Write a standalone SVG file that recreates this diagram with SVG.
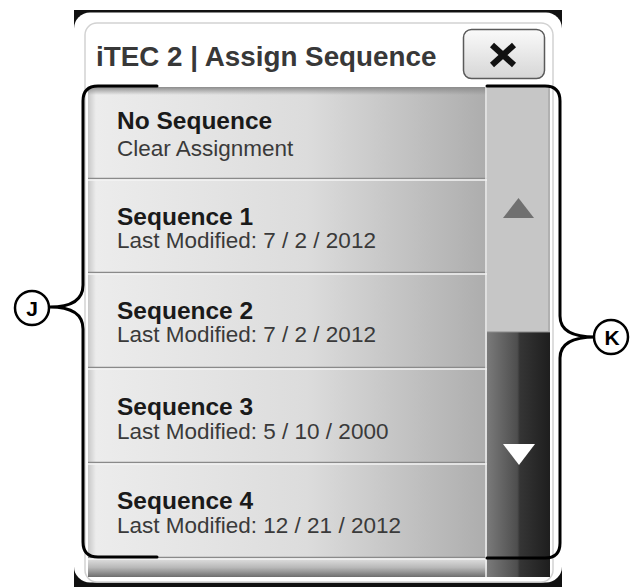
<svg xmlns="http://www.w3.org/2000/svg" width="643" height="587" viewBox="0 0 643 587">
<style>
.t{font-family:"Liberation Sans",Arial,sans-serif}
.title{font-size:27.8px;font-weight:bold;fill:#383838}
.b{font-size:24.5px;font-weight:bold;fill:#1a1a1a}
.r{font-size:22.5px;fill:#3a3a3a}
.sep{stroke:#8a8a8a;stroke-width:1.5}
.sepw{stroke:#f4f4f4;stroke-width:1.5}
.brace{fill:none;stroke:#000;stroke-width:3;stroke-linecap:round;stroke-linejoin:round}
.circ{fill:#fff;stroke:#000;stroke-width:2.5}
.lbl{font-size:21px;font-weight:bold;fill:#000;text-anchor:middle}
</style>
<defs>
<linearGradient id="rowg" x1="0" y1="0" x2="1" y2="0">
<stop offset="0" stop-color="#c8c8c8"/>
<stop offset="0.02" stop-color="#ececec"/>
<stop offset="0.55" stop-color="#dcdcdc"/>
<stop offset="1" stop-color="#adadad"/>
</linearGradient>
<linearGradient id="topg" x1="0" y1="0" x2="0" y2="1">
<stop offset="0" stop-color="#8c8c8c"/>
<stop offset="1" stop-color="#8c8c8c" stop-opacity="0"/>
</linearGradient>
<linearGradient id="botg" x1="0" y1="0" x2="0" y2="1">
<stop offset="0" stop-color="#e2e2e2"/>
<stop offset="0.5" stop-color="#b8b8b8"/>
<stop offset="1" stop-color="#6e6e6e"/>
</linearGradient>
<linearGradient id="darkg" x1="0" y1="0" x2="1" y2="0">
<stop offset="0" stop-color="#7a7a7a"/>
<stop offset="0.48" stop-color="#4e4e4e"/>
<stop offset="0.52" stop-color="#353535"/>
<stop offset="1" stop-color="#1e1e1e"/>
</linearGradient>
<linearGradient id="btng" x1="0" y1="0" x2="0" y2="1">
<stop offset="0" stop-color="#fafafa"/>
<stop offset="1" stop-color="#d6d6d6"/>
</linearGradient>
</defs>

<g id="frame">
<rect x="74" y="10" width="488" height="577" fill="#111"/>
<rect x="74" y="12.5" width="488" height="570" rx="16" fill="#fff"/>
<rect x="85" y="23" width="468" height="559" rx="12" fill="#fff" stroke="#d2d2d2" stroke-width="1.5"/>
</g>

<g id="header">
<text class="t title" x="96" y="66">iTEC 2 | Assign Sequence</text>
</g>

<g id="close-button">
<rect x="463.5" y="29.5" width="81" height="49" rx="8" fill="url(#btng)" stroke="#5a5a5a" stroke-width="1.5"/>
<path d="M492,45 L514,65 M514,45 L492,65" stroke="#111" stroke-width="6" stroke-linecap="butt"/>
</g>

<g id="list">
<rect x="88" y="87" width="399" height="490" fill="url(#rowg)"/>
<rect x="88" y="87" width="399" height="8" fill="url(#topg)"/>
<rect x="88" y="558" width="399" height="19" fill="url(#botg)"/>
<line class="sep" x1="88" y1="178.5" x2="487" y2="178.5"/>
<line class="sepw" x1="88" y1="180" x2="487" y2="180"/>
<line class="sep" x1="88" y1="272.5" x2="487" y2="272.5"/>
<line class="sepw" x1="88" y1="274" x2="487" y2="274"/>
<line class="sep" x1="88" y1="367.5" x2="487" y2="367.5"/>
<line class="sepw" x1="88" y1="369" x2="487" y2="369"/>
<line class="sep" x1="88" y1="462.5" x2="487" y2="462.5"/>
<line class="sepw" x1="88" y1="464" x2="487" y2="464"/>
<line class="sep" x1="88" y1="557.5" x2="487" y2="557.5"/>
<line class="sepw" x1="88" y1="559" x2="487" y2="559"/>
<line x1="486" y1="87" x2="486" y2="577" stroke="#f0f0f0" stroke-width="1.5"/>
</g>

<g id="row-0">
<text class="t b" x="117" y="129">No Sequence</text>
<text class="t r" x="117" y="156">Clear Assignment</text>
</g>
<g id="row-1">
<text class="t b" x="117" y="225">Sequence 1</text>
<text class="t r" x="117" y="248">Last Modified: 7 / 2 / 2012</text>
</g>
<g id="row-2">
<text class="t b" x="117" y="319">Sequence 2</text>
<text class="t r" x="117" y="342">Last Modified: 7 / 2 / 2012</text>
</g>
<g id="row-3">
<text class="t b" x="117" y="415">Sequence 3</text>
<text class="t r" x="117" y="439">Last Modified: 5 / 10 / 2000</text>
</g>
<g id="row-4">
<text class="t b" x="117" y="509">Sequence 4</text>
<text class="t r" x="117" y="533">Last Modified: 12 / 21 / 2012</text>
</g>

<g id="scrollbar">
<rect x="487" y="87" width="63" height="245" fill="#c6c6c6"/>
<rect x="487" y="332" width="63" height="245" fill="url(#darkg)"/>
<line x1="487" y1="332" x2="550" y2="332" stroke="#8a8a8a" stroke-width="1"/>
<line x1="549" y1="87" x2="549" y2="332" stroke="#a8a8a8" stroke-width="1.5"/>
<polygon points="503,218 534,218 518.5,198" fill="#707070"/>
<polygon points="503,444 535,444 519,465" fill="#fff"/>
</g>

<g id="connectors">
<path class="brace" d="M157,86 H98 Q83,86 83,101 V285 C83,300 72,307 50,307 M50,307 C72,307 83,314 83,329 V542 Q83,557 98,557 H157"/>
<path class="brace" d="M487,86 H545 Q560,86 560,101 V316 C560,330 572,337 595,337 M595,337 C572,337 560,344 560,358 V543 Q560,558 545,558 H487"/>
</g>

<g id="label-J">
<circle class="circ" cx="32" cy="308" r="17"/>
<text class="t lbl" x="32" y="315.5">J</text>
</g>
<g id="label-K">
<circle class="circ" cx="611" cy="337" r="17"/>
<text class="t lbl" x="612" y="344.5">K</text>
</g>
</svg>
